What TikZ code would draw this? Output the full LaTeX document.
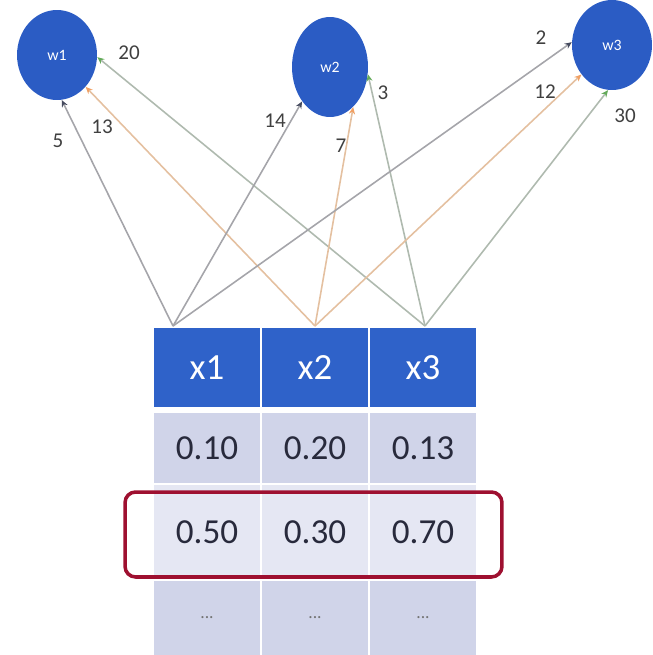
\documentclass[tikz,border=0pt]{standalone}
\usepackage{fontspec}
\setmainfont{Carlito}
\usepackage{tikz}
\usetikzlibrary{shapes.geometric,arrows.meta}
\definecolor{wblue}{RGB}{43,92,196}
\definecolor{hblue}{RGB}{47,98,201}
\definecolor{rowc}{RGB}{208,212,233}
\definecolor{rowl}{RGB}{229,231,243}
\definecolor{selred}{RGB}{158,16,48}
\definecolor{valc}{RGB}{40,42,60}
\definecolor{lnA}{RGB}{165,165,170}
\definecolor{lnB}{RGB}{228,192,160}
\definecolor{lnC}{RGB}{175,186,175}
\definecolor{tipA}{RGB}{70,75,95}
\definecolor{tipB}{RGB}{240,160,100}
\definecolor{tipC}{RGB}{100,170,90}

\begin{document}
\begin{tikzpicture}[x=0.02cm,y=-0.02cm]
\tikzstyle{every node}+=[inner sep=0pt]
\tikzstyle{weight}=[fill=wblue,ellipse,text=white,font=\fontsize{9}{10}\selectfont]
\tikzstyle{head}=[fill=hblue,text=white,minimum width=2.12cm,minimum height=1.58cm,font=\fontsize{21}{24}\selectfont]
\tikzstyle{cell}=[fill=rowc,text=valc,minimum width=2.12cm,font=\fontsize{20}{23}\selectfont]
\tikzstyle{lab}=[text=black!75,font=\fontsize{12}{13}\selectfont]
\tikzstyle{fromA}=[lnA,line width=0.9pt,-{Stealth[length=4pt,width=3.5pt,color=tipA]}]
\tikzstyle{fromB}=[lnB,line width=0.9pt,-{Stealth[length=4pt,width=3.5pt,color=tipB]}]
\tikzstyle{fromC}=[lnC,line width=0.9pt,-{Stealth[length=4pt,width=3.5pt,color=tipC]}]
\useasboundingbox (0,0) rectangle (652,655);

\node [weight,minimum width=1.6cm,minimum height=1.8cm] (w1) at (57,55) {w1};
\node [weight,minimum width=1.52cm,minimum height=2cm] (w2) at (330,67) {w2};
\node [weight,minimum width=1.6cm,minimum height=1.8cm] (w3) at (612,45) {w3};

\node [head] (x1) at (207,367.5) {x1};
\node [head] (x2) at (315,367.5) {x2};
\node [head] (x3) at (423,367.5) {x3};
\node [cell,minimum height=1.4cm] (a1) at (207,448) {0.10};
\node [cell,minimum height=1.4cm] (a2) at (315,448) {0.20};
\node [cell,minimum height=1.4cm] (a3) at (423,448) {0.13};
\node [cell,fill=rowl,minimum height=1.88cm] (b1) at (207,532) {0.50};
\node [cell,fill=rowl,minimum height=1.88cm] (b2) at (315,532) {0.30};
\node [cell,fill=rowl,minimum height=1.88cm] (b3) at (423,532) {0.70};
\node [cell,minimum height=1.48cm,text=black!55,font=\fontsize{10}{12}\selectfont] (c1) at (207,618) {...};
\node [cell,minimum height=1.48cm,text=black!55,font=\fontsize{10}{12}\selectfont] (c2) at (315,618) {...};
\node [cell,minimum height=1.48cm,text=black!55,font=\fontsize{10}{12}\selectfont] (c3) at (423,618) {...};
\node [draw=selred,line width=2pt,rounded corners=6pt,minimum width=7.54cm,minimum height=1.7cm] (sel) at (313.5,534.5) {};

\coordinate (s1) at (173,326);
\coordinate (s2) at (315,326);
\coordinate (s3) at (425,326);

\draw [fromA] (s1) -- (w1.-84);
\draw [fromB] (s2) -- (w1.-48);
\draw [fromC] (s3) -- (w1.-3);
\draw [fromA] (s1) -- (w2.-129);
\draw [fromB] (s2) -- (w2.-60);
\draw [fromC] (s3) -- (w2.-11);
\draw [fromA] (s1) -- (w3.176);
\draw [fromB] (s2) -- (w3.-136);
\draw [fromC] (s3) -- (w3.-95);

\node [lab] (l5) at (58,141) {5};
\node [lab] (l13) at (102,127) {13};
\node [lab] (l20) at (129,53) {20};
\node [lab] (l14) at (275,121) {14};
\node [lab] (l7) at (341,146) {7};
\node [lab] (l3) at (383,93) {3};
\node [lab] (l2) at (541,38) {2};
\node [lab] (l12) at (545,92) {12};
\node [lab] (l30) at (625,116) {30};
\end{tikzpicture}
\end{document}
